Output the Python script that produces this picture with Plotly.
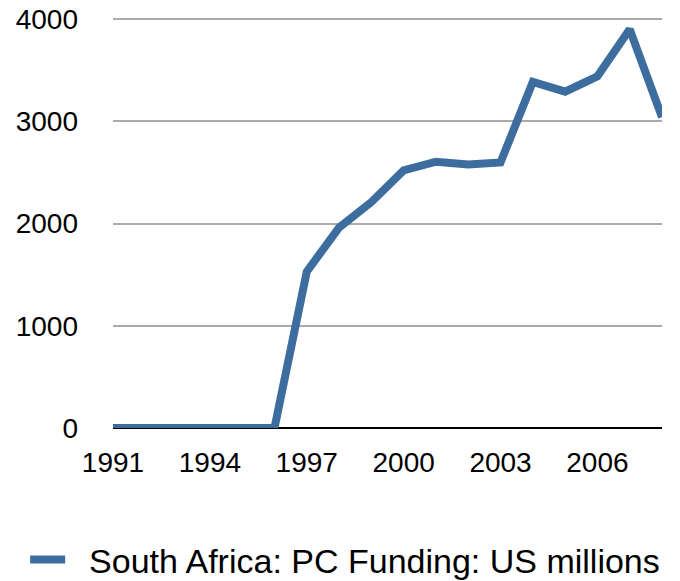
import plotly.graph_objects as go

years = list(range(1991, 2009))
funding = [0, 0, 0, 0, 0, 0, 1530, 1960, 2210, 2520, 2605, 2578, 2597, 3385, 3290, 3440, 3900, 3040]
series_name = "South Africa: PC Funding: US millions"
y_ticks = [0, 1000, 2000, 3000, 4000]
x_ticks = [1991, 1994, 1997, 2000, 2003, 2006]

FONT = "Liberation Sans, Arial, Helvetica, sans-serif"

fig = go.Figure()
fig.add_trace(go.Scatter(
    x=years, y=funding, mode="lines", name="\u00a0\u00a0" + series_name,
    line=dict(color="rgb(60,109,158)", width=8),
    cliponaxis=False,
))

fig.update_layout(
    width=680, height=581,
    margin=dict(l=113, r=18, t=16, b=153, autoexpand=False),
    paper_bgcolor="white", plot_bgcolor="white",
    font=dict(family=FONT, size=28, color="black"),
    showlegend=True,
    legend=dict(orientation="h", x=-0.16, xanchor="left", y=-0.32, yanchor="middle",
                font=dict(family=FONT, size=34), itemwidth=35),
    xaxis=dict(range=[1991, 2008], tickvals=x_ticks, ticktext=[str(v) for v in x_ticks],
               showgrid=False, zeroline=False, showline=False, ticks="",
               ticklabelstandoff=15, tickfont=dict(size=28), automargin=False),
    yaxis=dict(range=[0, 4030], tickvals=y_ticks, showgrid=True,
               gridcolor="rgb(170,170,170)", gridwidth=2, zeroline=True,
               zerolinecolor="black", zerolinewidth=2, showline=False, ticks="",
               ticklabelstandoff=34, tickfont=dict(size=28), automargin=False),
)

fig.write_html("out.html", config={"displayModeBar": False},
               post_script="document.body.style.margin='0';document.body.style.overflow='hidden';")
